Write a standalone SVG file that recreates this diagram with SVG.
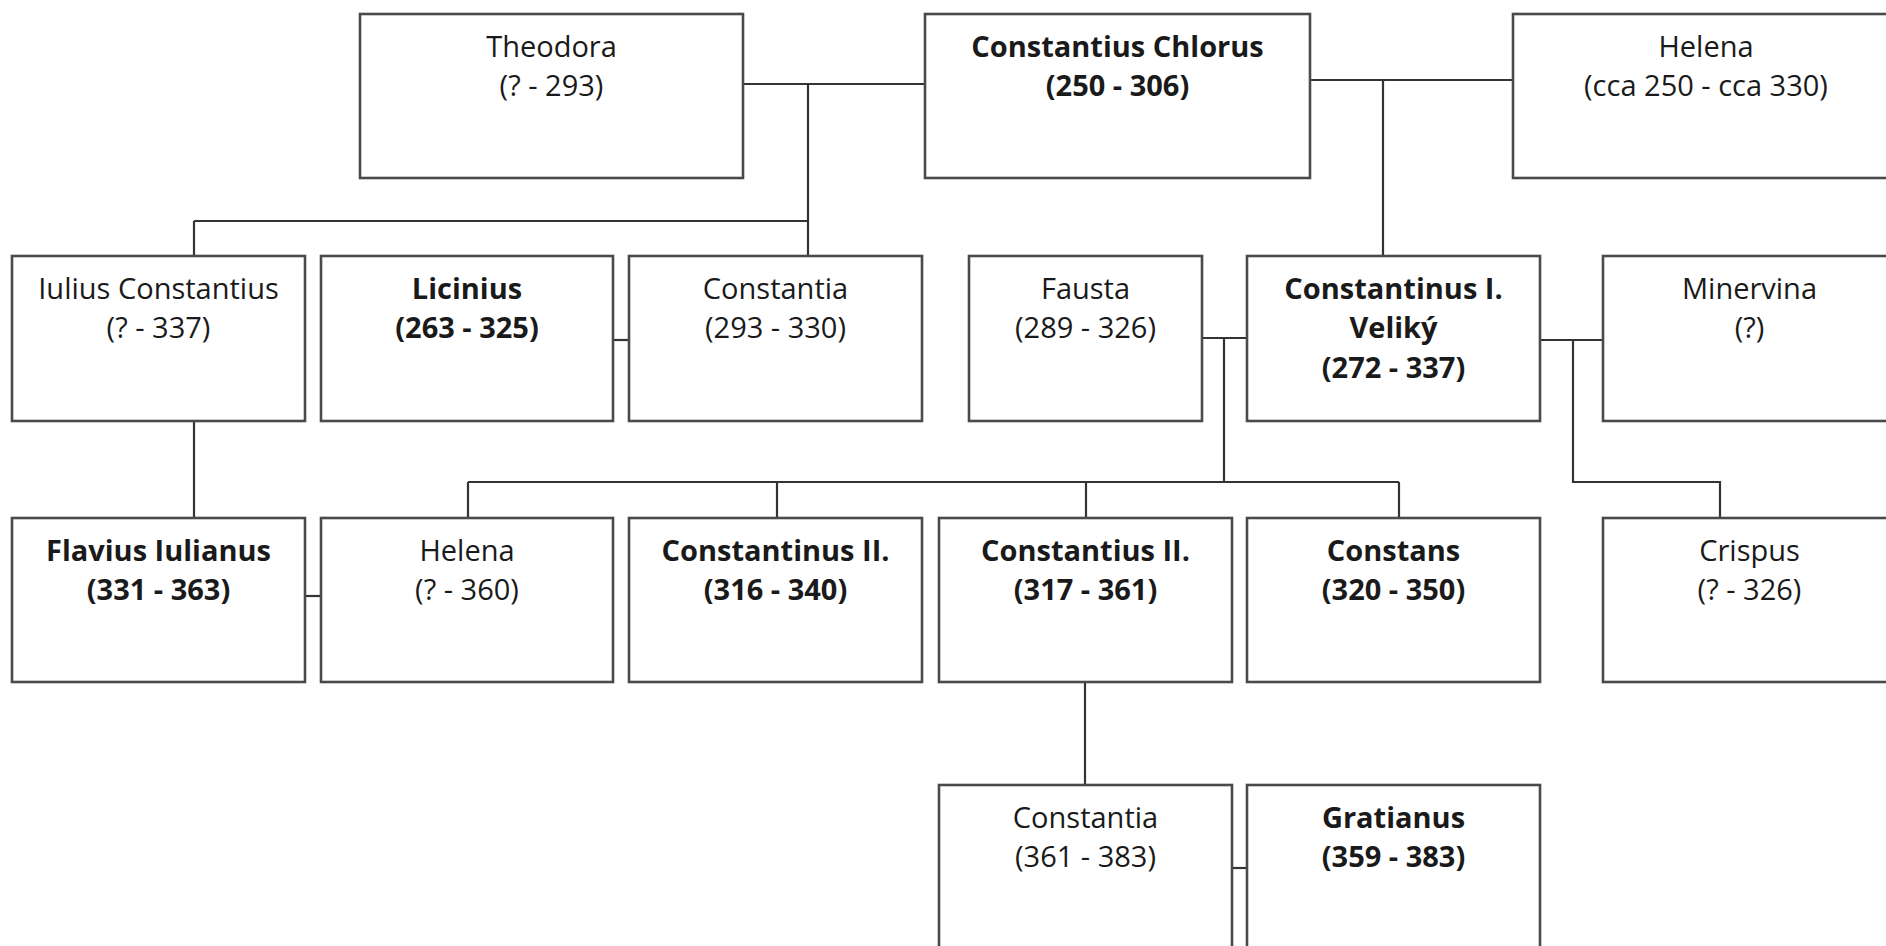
<svg xmlns="http://www.w3.org/2000/svg" width="1886" height="946" viewBox="0 0 1886 946">
<style>
.box{fill:#fff;stroke:#4a4a4a;stroke-width:2.6}
.ln{fill:none;stroke:#333;stroke-width:2.2}
text{font-family:"Open Sans","Noto Sans","Liberation Sans",sans-serif;font-size:29px;fill:#1a1a1a;text-anchor:middle}
.b{font-weight:bold}
</style>
<rect width="1886" height="946" fill="#fff"/>
<g id="connectors">
<path class="ln" d="M743 84H925M808 84V256M194 221H808M194 221V256"/>
<path class="ln" d="M1310 80H1513M1383 80V256"/>
<path class="ln" d="M613 340H629"/>
<path class="ln" d="M1202 338H1247M1224 338V482M468 482H1399M468 482V518M777 482V518M1086 482V518M1399 482V518"/>
<path class="ln" d="M1540 340H1603M1573 340V482H1720V518"/>
<path class="ln" d="M194 421V518"/>
<path class="ln" d="M305 596H321"/>
<path class="ln" d="M1085 682V785"/>
<path class="ln" d="M1232 868H1247"/>
</g>
<g id="theodora"><rect class="box" x="360" y="14" width="383" height="164"/><text x="551.5" y="57">Theodora</text><text x="551.5" y="96">(? - 293)</text></g>
<g id="constantius-chlorus"><rect class="box" x="925" y="14" width="385" height="164"/><text class="b" x="1117.5" y="57">Constantius Chlorus</text><text class="b" x="1117.5" y="96">(250 - 306)</text></g>
<g id="helena-mother"><rect class="box" x="1513" y="14" width="386" height="164"/><text x="1706" y="57">Helena</text><text x="1706" y="96">(cca 250 - cca 330)</text></g>
<g id="iulius-constantius"><rect class="box" x="12" y="256" width="293" height="165"/><text x="158.5" y="299">Iulius Constantius</text><text x="158.5" y="338">(? - 337)</text></g>
<g id="licinius"><rect class="box" x="321" y="256" width="292" height="165"/><text class="b" x="467" y="299">Licinius</text><text class="b" x="467" y="338">(263 - 325)</text></g>
<g id="constantia-1"><rect class="box" x="629" y="256" width="293" height="165"/><text x="775.5" y="299">Constantia</text><text x="775.5" y="338">(293 - 330)</text></g>
<g id="fausta"><rect class="box" x="969" y="256" width="233" height="165"/><text x="1085.5" y="299">Fausta</text><text x="1085.5" y="338">(289 - 326)</text></g>
<g id="constantinus-1"><rect class="box" x="1247" y="256" width="293" height="165"/><text class="b" x="1393.5" y="299">Constantinus I.</text><text class="b" x="1393.5" y="338">Veliký</text><text class="b" x="1393.5" y="378">(272 - 337)</text></g>
<g id="minervina"><rect class="box" x="1603" y="256" width="293" height="165"/><text x="1749.5" y="299">Minervina</text><text x="1749.5" y="338">(?)</text></g>
<g id="flavius-iulianus"><rect class="box" x="12" y="518" width="293" height="164"/><text class="b" x="158.5" y="561">Flavius Iulianus</text><text class="b" x="158.5" y="600">(331 - 363)</text></g>
<g id="helena-2"><rect class="box" x="321" y="518" width="292" height="164"/><text x="467" y="561">Helena</text><text x="467" y="600">(? - 360)</text></g>
<g id="constantinus-2"><rect class="box" x="629" y="518" width="293" height="164"/><text class="b" x="775.5" y="561">Constantinus II.</text><text class="b" x="775.5" y="600">(316 - 340)</text></g>
<g id="constantius-2"><rect class="box" x="939" y="518" width="293" height="164"/><text class="b" x="1085.5" y="561">Constantius II.</text><text class="b" x="1085.5" y="600">(317 - 361)</text></g>
<g id="constans"><rect class="box" x="1247" y="518" width="293" height="164"/><text class="b" x="1393.5" y="561">Constans</text><text class="b" x="1393.5" y="600">(320 - 350)</text></g>
<g id="crispus"><rect class="box" x="1603" y="518" width="293" height="164"/><text x="1749.5" y="561">Crispus</text><text x="1749.5" y="600">(? - 326)</text></g>
<g id="constantia-2"><rect class="box" x="939" y="785" width="293" height="170"/><text x="1085.5" y="828">Constantia</text><text x="1085.5" y="867">(361 - 383)</text></g>
<g id="gratianus"><rect class="box" x="1247" y="785" width="293" height="170"/><text class="b" x="1393.5" y="828">Gratianus</text><text class="b" x="1393.5" y="867">(359 - 383)</text></g>
</svg>
